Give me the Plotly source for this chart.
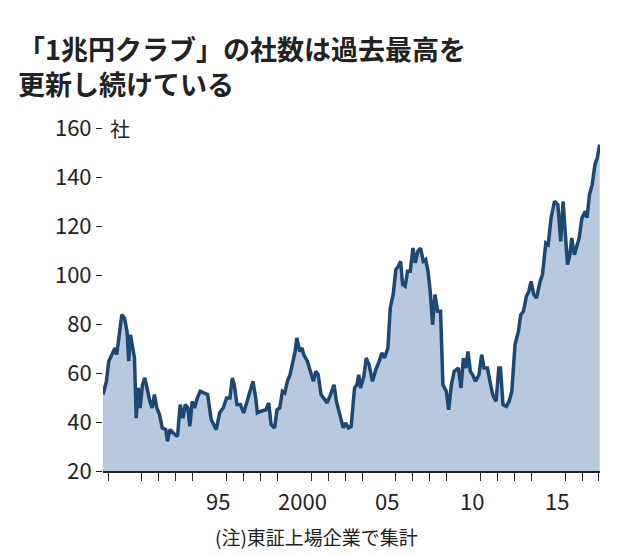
import plotly.graph_objects as go

years = [1988.70, 1988.90, 1989.04, 1989.20, 1989.41, 1989.51, 1989.65, 1989.81, 1989.97, 1990.12,
         1990.22, 1990.32, 1990.46, 1990.56, 1990.66, 1990.78, 1990.89, 1991.03, 1991.17, 1991.33,
         1991.47, 1991.60, 1991.74, 1991.88, 1992.04, 1992.20, 1992.41, 1992.51, 1992.65, 1992.85,
         1993.10, 1993.26, 1993.42, 1993.56, 1993.71, 1993.83, 1993.97, 1994.11, 1994.27, 1994.44,
         1994.68, 1994.88, 1995.09, 1995.39, 1995.59, 1995.80, 1996.00, 1996.20, 1996.34, 1996.46,
         1996.61, 1996.81, 1997.01, 1997.21, 1997.42, 1997.56, 1997.72, 1997.82, 1998.03, 1998.33,
         1998.49, 1998.63, 1998.84, 1998.98, 1999.14, 1999.30, 1999.44, 1999.59, 1999.75, 1999.89,
         2000.05, 2000.15, 2000.32, 2000.46, 2000.56, 2000.77, 2000.97, 2001.13, 2001.27, 2001.41,
         2001.58, 2001.74, 2001.94, 2002.14, 2002.35, 2002.49, 2002.69, 2002.89, 2003.03, 2003.20,
         2003.36, 2003.56, 2003.70, 2003.81, 2003.91, 2004.11, 2004.25, 2004.42, 2004.62, 2004.82,
         2005.02, 2005.17, 2005.33, 2005.53, 2005.67, 2005.84, 2006.00, 2006.14, 2006.28, 2006.40,
         2006.55, 2006.69, 2006.85, 2007.01, 2007.15, 2007.30, 2007.46, 2007.62, 2007.76, 2007.90,
         2008.03, 2008.17, 2008.31, 2008.47, 2008.64, 2008.78, 2008.98, 2009.12, 2009.28, 2009.45,
         2009.69, 2009.85, 2009.99, 2010.14, 2010.26, 2010.40, 2010.54, 2010.70, 2010.91, 2011.07,
         2011.21, 2011.41, 2011.56, 2011.72, 2011.92, 2012.08, 2012.18, 2012.33, 2012.53, 2012.69,
         2012.85, 2013.04, 2013.24, 2013.38, 2013.54, 2013.71, 2013.85, 2013.99, 2014.15, 2014.31,
         2014.52, 2014.66, 2014.86, 2015.00, 2015.17, 2015.37, 2015.57, 2015.74, 2015.88, 2016.02,
         2016.14, 2016.28, 2016.39, 2016.55, 2016.69, 2016.83, 2016.99, 2017.19, 2017.29, 2017.44,
         2017.60, 2017.76, 2017.90, 2018.04]

companies = [51.2, 56.6, 64.8, 67.5, 70.2, 67.5, 75.6, 83.8, 82.4, 77,
             64.8, 75.6, 70.2, 66.1, 41.6, 53.9, 45.7, 55.2, 58, 52.5,
             48.4, 45.7, 51.2, 45.7, 43, 37.6, 36.9, 32.1, 36.9, 35.5,
             34.1, 47.1, 41.6, 47.1, 45.7, 38.2, 48.4, 45.7, 49.8, 52.5,
             51.8, 51.2, 41, 36.9, 43.7, 45.7, 49.8, 49.8, 58, 55.2,
             47.1, 47.1, 43.7, 48.4, 53.9, 56.6, 49.8, 43.7, 44.4, 45,
             47.8, 39, 37.6, 45, 45.7, 52.5, 51.8, 56.6, 59.3, 63.4,
             68.8, 74.3, 68.8, 70.2, 67.5, 64.8, 60.7, 56.6, 60.7, 59.3,
             51.2, 49.8, 47.8, 51.2, 55.2, 48.4, 43, 37.6, 39.6, 37.6,
             38.2, 53.9, 55.2, 59.3, 53.9, 58.6, 66.1, 63.4, 56.6, 61.4,
             64.8, 68.2, 66.1, 70.2, 86.5, 92, 102.2, 103.5, 105.6, 96.1,
             95.4, 101.5, 101.5, 111, 104.9, 109.7, 111, 105.6, 106.3, 101.5,
             93.3, 79.7, 92, 85.2, 85.2, 55.2, 52.5, 45, 55.2, 60.7,
             62, 53.9, 66.1, 62, 68.8, 60.7, 59.3, 56.6, 59.3, 67.5,
             62, 62, 56.6, 51.2, 48.4, 62, 62, 47.1, 46.4, 48.4,
             52.5, 71.6, 77, 83.8, 85.2, 91.3, 93.3, 97.4, 92, 90.6,
             97.4, 100.1, 113.1, 112.4, 123.3, 130.1, 128.7, 113.7, 130.1, 117.8,
             104.2, 108.3, 115.1, 108.3, 112.4, 115.1, 123.3, 126, 123.3, 132.8,
             136.9, 145, 147.8, 153.2]

label_pos = [1988.3, 1995.5, 2000.5, 2005.5, 2010.5, 2015.5, 2018.2]
label_text = ["1988年", "95", "2000", "05", "10", "15", "18"]
y_ticks = [20, 40, 60, 80, 100, 120, 140, 160]
title_lines = ["「1兆円クラブ」の社数は過去最高を", "更新し続けている"]

font = "Noto Sans CJK JP"
ink = "#222222"

fig = go.Figure()
fig.add_trace(go.Scatter(x=years, y=companies, mode="lines", fill="tozeroy",
                         fillcolor="#b8c8de", line=dict(color="#1d4872", width=3.5),
                         hoverinfo="skip"))

fig.update_layout(
    width=619, height=555, showlegend=False,
    paper_bgcolor="white", plot_bgcolor="white",
    margin=dict(l=95, r=27, t=120, b=92),
    font=dict(family=font, color=ink, size=22),
)
fig.update_xaxes(range=[1988.7, 2018.06], showgrid=False, zeroline=False,
                 showline=True, linecolor=ink, linewidth=1.5,
                 showticklabels=False, ticks="",
                 minor=dict(tickmode="linear", tick0=1989, dtick=1, ticks="outside",
                            ticklen=8, tickcolor=ink, tickwidth=1.2))
fig.update_yaxes(range=[20, 160], showgrid=False, zeroline=False, showline=False,
                 tickvals=y_ticks, ticks="outside", ticklen=6, tickcolor=ink,
                 tickfont=dict(size=22, family=font, color=ink))

# x labels as annotations so the end labels are not dropped
for pos, txt in zip(label_pos, label_text):
    fig.add_annotation(text=txt, x=pos, xref="x", y=-0.085, yref="paper",
                       xanchor="center", yanchor="middle", showarrow=False,
                       font=dict(size=22, family=font, color=ink))

for i, line in enumerate(title_lines):
    fig.add_annotation(text="<b>" + line + "</b>", xref="paper", yref="paper",
                       x=-0.175, y=1.233 - i * 0.102, xanchor="left", yanchor="middle",
                       showarrow=False, font=dict(size=27, family=font, color=ink))

fig.add_annotation(text="社", xref="paper", yref="paper", x=0.01, y=1.0,
                   xanchor="left", yanchor="middle", showarrow=False,
                   font=dict(size=20, family=font, color=ink))
fig.add_annotation(text="(注)東証上場企業で集計", xref="paper", yref="paper",
                   x=0.43, y=-0.19, xanchor="center", yanchor="middle", showarrow=False,
                   font=dict(size=19, family=font, color=ink))

fig.write_html("out.html")
